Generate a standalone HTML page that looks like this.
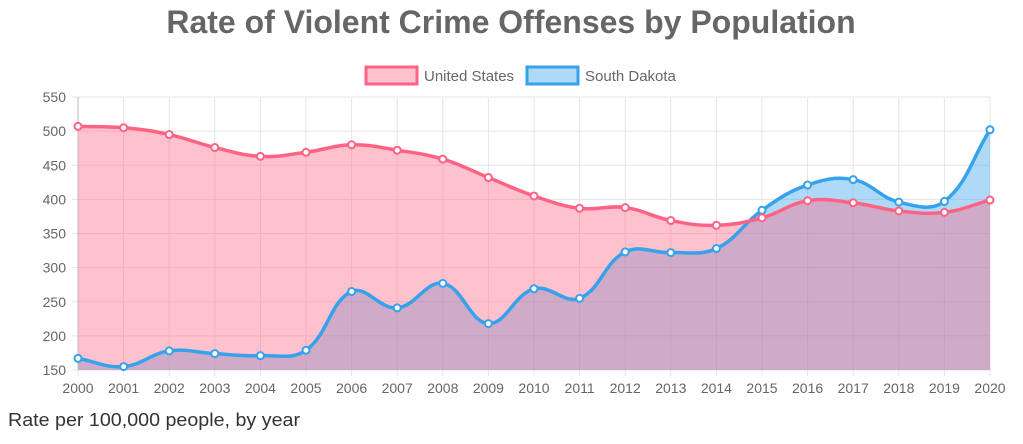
<!DOCTYPE html>
<html><head><meta charset="utf-8"><style>
body{margin:0;background:#fff;width:1023px;height:439px;overflow:hidden;font-family:"Liberation Sans",sans-serif}
</style></head><body>
<svg id="s" width="1023" height="439" xmlns="http://www.w3.org/2000/svg"></svg>
<script>
const us=[507,505,495,476,463,469,480,472,459,432,405,387,388,369,362,373,398,395,383,381,399];
const sd=[167,155,178,174,171,179,265,241,277,218,269,255,323,322,328,384,421,429,396,397,502];
const L=78,R=990,T=97,B=370;
const X=i=>L+(R-L)*i/20, Y=v=>B-(v-150)*(B-T)/400;
let h='';
h+=`<text x="511" y="33" text-anchor="middle" font-size="32" font-weight="bold" fill="#666">Rate of Violent Crime Offenses by Population</text>`;
for(let v=150;v<=550;v+=50){const y=Y(v);h+=`<line x1="72" x2="${R}" y1="${y}" y2="${y}" stroke="#e5e5e5"/><text x="66" y="${y+5}" text-anchor="end" font-size="14" fill="#666">${v}</text>`;}
for(let i=0;i<=20;i++){const x=X(i);h+=`<line x1="${x}" x2="${x}" y1="${T}" y2="${B+6}" stroke="#e5e5e5"/><text x="${x}" y="393" text-anchor="middle" font-size="14" fill="#666">${2000+i}</text>`;}
function path(d){const p=d.map((v,i)=>[X(i),Y(v)]);let s=`M${p[0][0]},${p[0][1]}`;const t=0.4;
const cp=[];for(let i=0;i<p.length;i++){const a=p[Math.max(0,i-1)],b=p[i],c=p[Math.min(p.length-1,i+1)];
const d01=Math.hypot(b[0]-a[0],b[1]-a[1]),d12=Math.hypot(c[0]-b[0],c[1]-b[1]);let fa=d01/(d01+d12)||0,fb=d12/(d01+d12)||0;fa*=t;fb*=t;
cp.push([[b[0]-fa*(c[0]-a[0]),b[1]-fa*(c[1]-a[1])],[b[0]+fb*(c[0]-a[0]),b[1]+fb*(c[1]-a[1])]]);}
for(let i=1;i<p.length;i++){s+=` C${cp[i-1][1][0]},${cp[i-1][1][1]} ${cp[i][0][0]},${cp[i][0][1]} ${p[i][0]},${p[i][1]}`;}return s;}
function ds(d,c,f){const p=path(d);h+=`<path d="${p} L${R},${B} L${L},${B}Z" fill="${f}"/>`;return p;}
const p2=ds(sd,'#36a2eb','rgba(54,162,235,0.4)');
const p1=ds(us,'#ff6384','rgba(255,99,132,0.4)');
h+=`<line x1="${L}" x2="${L}" y1="${T}" y2="${B}" stroke="#bbb"/>`;
function ln(p,d,c){h+=`<path d="${p}" fill="none" stroke="${c}" stroke-width="3.5"/>`;d.forEach((v,i)=>h+=`<circle cx="${X(i)}" cy="${Y(v)}" r="3.5" fill="#fff" stroke="${c}" stroke-width="2"/>`);}
ln(p2,sd,'#36a2eb');ln(p1,us,'#ff6384');
h+=`<rect x="366" y="67" width="51" height="17" fill="rgba(255,99,132,0.4)" stroke="#ff6384" stroke-width="3"/><text x="424" y="81" font-size="15" fill="#666">United States</text>`;
h+=`<rect x="527" y="67" width="51" height="17" fill="rgba(54,162,235,0.4)" stroke="#36a2eb" stroke-width="3"/><text x="585" y="81" font-size="15" fill="#666">South Dakota</text>`;
h+=`<text x="8" y="426" font-size="18" fill="#333" textLength="292" lengthAdjust="spacingAndGlyphs">Rate per 100,000 people, by year</text>`;
document.getElementById('s').innerHTML=h;
</script>
</body></html>
